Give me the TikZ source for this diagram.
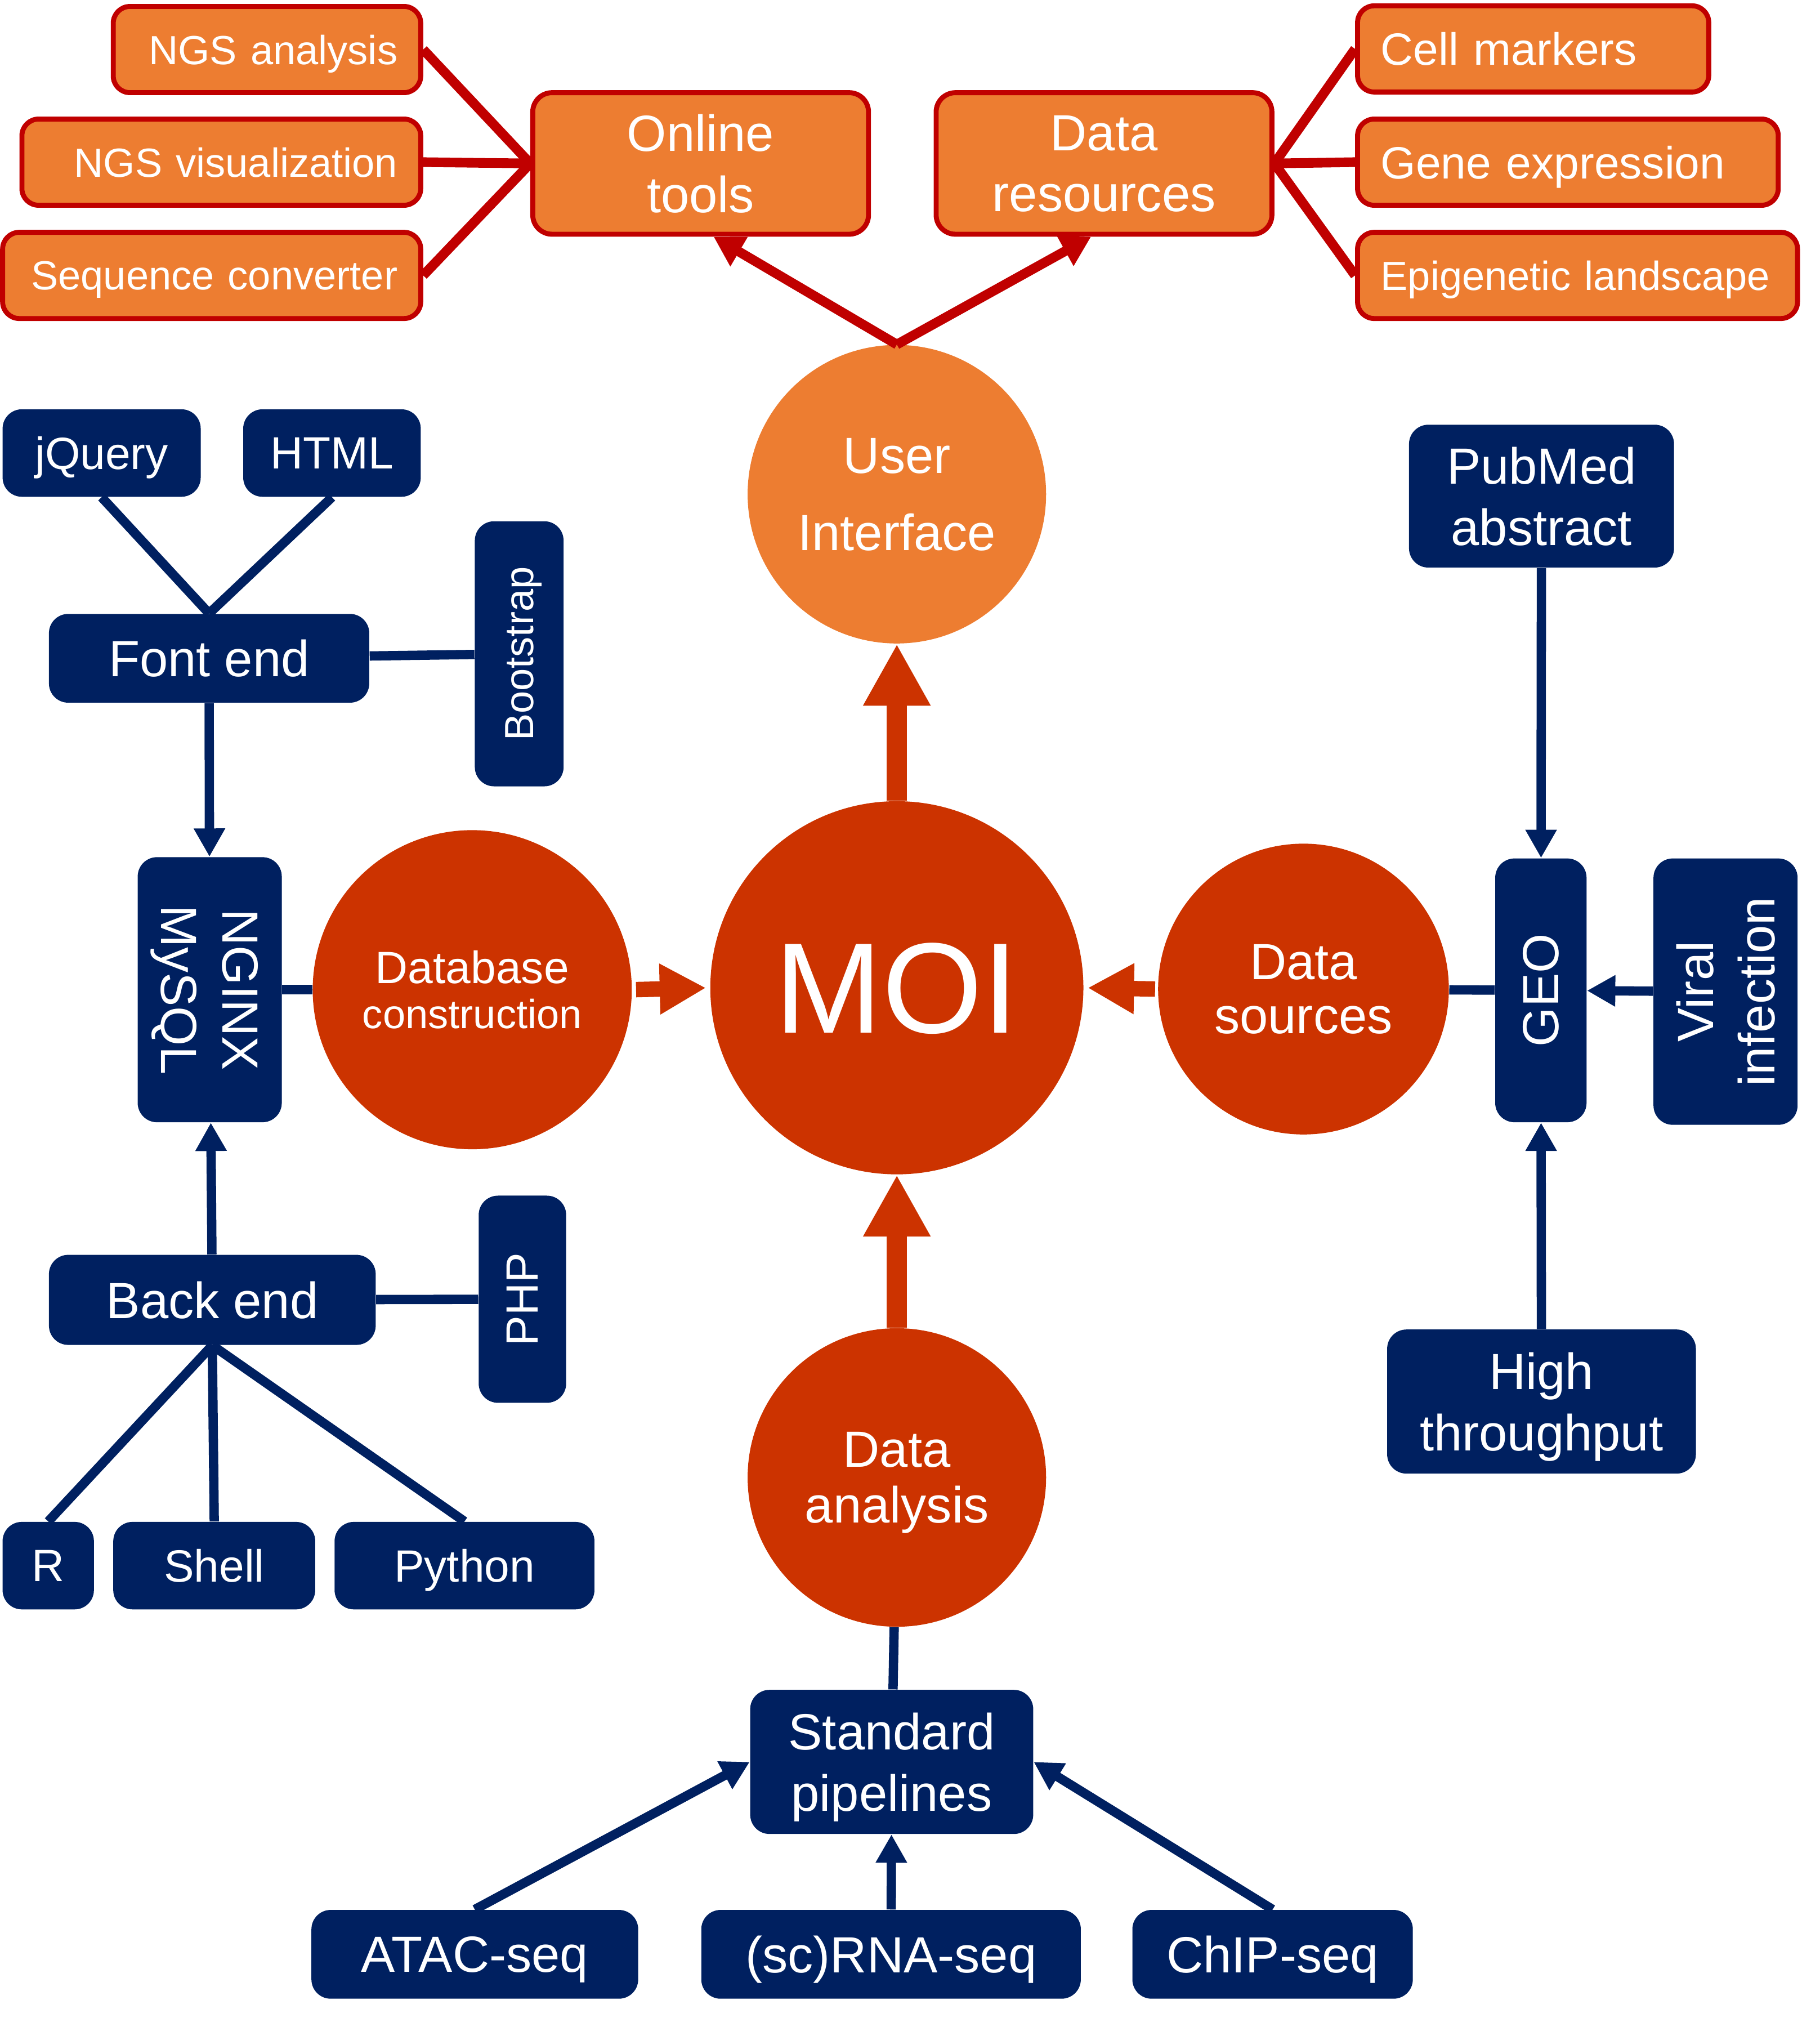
\documentclass[tikz,border=0pt]{standalone}
\usepackage{fontspec}
\setmainfont{Liberation Sans}
\usetikzlibrary{arrows.meta}
\definecolor{navy}{HTML}{002060}
\definecolor{orng}{HTML}{ED7D31}
\definecolor{dkred}{HTML}{C00000}
\definecolor{rust}{HTML}{CC3300}
\newcommand{\fbig}{\fontsize{22.5}{27}\selectfont}
\newcommand{\fmid}{\fontsize{20}{24}\selectfont}
\newcommand{\fsml}{\fontsize{18}{21}\selectfont}

\begin{document}
\begin{tikzpicture}[x=0.02cm, y=-0.02cm,
    lf/.style={draw=dkred, line width=2.2pt, fill=orng, text=white,
               rounded corners=0.26cm, minimum height=1.34cm,
               inner xsep=0.36cm, text depth=0pt, font=\fsml},
    lfl/.style={lf, align=right},
    lfr/.style={lf, align=left},
    hub/.style={draw=dkred, line width=2.2pt, fill=orng, text=white,
                rounded corners=0.3cm, minimum width=5.22cm,
                minimum height=2.2cm, align=center, text depth=0pt, font=\fbig},
    bx/.style={fill=navy, text=white, rounded corners=0.3cm,
               minimum height=1.36cm, align=center, text depth=0pt,
               font=\fbig, inner sep=2pt},
    circ/.style={circle, text=white, align=center, inner sep=0pt,
                 text depth=0pt, font=\fbig},
    ln/.style={navy, line width=0.145cm},
    arr/.style={ln, -{Triangle[length=0.44cm, width=0.46cm]}},
    rln/.style={dkred, line width=0.15cm},
    rarr/.style={rln, -{Triangle[length=0.46cm, width=0.5cm]}},
    big/.style={rust, line width=0.32cm, -{Triangle[length=0.96cm, width=0.98cm]}},
    mid/.style={rust, line width=0.24cm, -{Triangle[length=0.72cm, width=0.74cm]}}]
  \useasboundingbox (0,0) rectangle (1414,1568);

  % web part, top
  \node[lfl, text width=4.06cm] (ngsa) at (207.5,38.5) {NGS analysis};
  \node[lfl, text width=5.48cm] (ngsv) at (172,126) {NGS visualization};
  \node[lfl, text width=5.78cm] (seqc) at (164.5,214) {Sequence converter};
  \node[hub] (ot) at (544.5,127) {Online\\tools};
  \node[hub] (dr) at (858,127) {Data\\resources};
  \node[lfr, text width=4.74cm, font=\fmid] (cm) at (1191.5,38) {Cell markers};
  \node[lfr, text width=5.82cm, font=\fmid] (ge) at (1218.5,126) {Gene expression};
  \node[lfr, text width=6.12cm] (epi) at (1226,214) {Epigenetic landscape};

  % circles
  \node[circ, fill=orng, minimum size=4.64cm,
        font=\fontsize{22.5}{34}\selectfont] (ui) at (697,384) {User\\Interface};
  \node[circ, fill=rust, minimum size=5.8cm,
        font=\fontsize{57}{60}\selectfont] (moi) at (697,767.5) {MOI};
  \node[circ, fill=rust, minimum size=4.96cm,
        font=\fontsize{18}{20}\selectfont] (db) at (367,769) {{\fmid Database}\\construction};
  \node[circ, fill=rust, minimum size=4.52cm,
        font=\fontsize{22.5}{24}\selectfont] (ds) at (1013,768.5) {Data\\sources};
  \node[circ, fill=rust, minimum size=4.64cm,
        font=\fontsize{22.5}{24.5}\selectfont] (da) at (697,1148) {Data\\analysis};

  % database side
  \node[bx, minimum width=3.08cm, font=\fmid] (jq) at (79,352) {jQuery};
  \node[bx, minimum width=2.76cm, font=\fmid] (html) at (258,352) {HTML};
  \node[bx, minimum width=4.98cm, minimum height=1.38cm] (fe) at (162.5,511.5) {Font end};
  \node[bx, rotate=90, minimum width=4.12cm, minimum height=1.38cm,
        font=\fsml] (bs) at (403.5,508) {Bootstrap};
  \node[bx, rotate=-90, minimum width=4.12cm, minimum height=2.24cm] (ng) at (163,769) {NGINX\\MySQL};
  \node[bx, minimum width=5.08cm, minimum height=1.4cm] (be) at (165,1010) {Back end};
  \node[bx, rotate=90, minimum width=3.22cm, font=\fmid] (php) at (406,1009.5) {PHP};
  \node[bx, minimum width=1.42cm, font=\fmid] (r) at (37.5,1216.5) {R};
  \node[bx, minimum width=3.14cm, font=\fmid] (sh) at (166.5,1216.5) {Shell};
  \node[bx, minimum width=4.04cm, font=\fmid] (py) at (361,1216.5) {Python};

  % data sources side
  \node[bx, minimum width=4.12cm, minimum height=2.22cm] (pm) at (1198,385.5) {PubMed\\abstract};
  \node[bx, rotate=90, minimum width=4.1cm, minimum height=1.42cm] (geo) at (1197.5,769.5) {GEO};
  \node[bx, rotate=90, minimum width=4.14cm, minimum height=2.24cm] (vi) at (1341,770.5) {Viral\\infection};
  \node[bx, minimum width=4.8cm, minimum height=2.24cm] (ht) at (1198,1089) {High\\throughput};

  % analysis side
  \node[bx, minimum width=4.4cm, minimum height=2.24cm] (sp) at (693,1369) {Standard\\pipelines};
  \node[bx, minimum width=5.08cm, minimum height=1.38cm] (atac) at (369,1518.5) {ATAC-seq};
  \node[bx, minimum width=5.9cm, minimum height=1.38cm] (rna) at (692.5,1518.5) {(sc)RNA-seq};
  \node[bx, minimum width=4.36cm, minimum height=1.38cm] (chip) at (989,1518.5) {ChIP-seq};

  % connectors
  \draw[rln] (ot.west) -- (ngsa.east);
  \draw[rln] (ot.west) -- (ngsv.east);
  \draw[rln] (ot.west) -- (seqc.east);
  \draw[rln] (dr.east) -- (cm.west);
  \draw[rln] (dr.east) -- (ge.west);
  \draw[rln] (dr.east) -- (epi.west);
  \draw[rarr] (ui.north) -- (ot.-80);
  \draw[rarr] (ui.north) -- (dr.-100);

  \draw[big] (moi) -- (ui);
  \draw[big] (da) -- (moi);
  \draw[mid, shorten <=0.06cm, shorten >=0.06cm] (db.east) -- (moi.west);
  \draw[mid, shorten <=0.04cm, shorten >=0.06cm] (ds.west) -- (moi.east);

  \draw[ln] (jq.south) -- (fe.north);
  \draw[ln] (html.south) -- (fe.north);
  \draw[ln] (fe) -- (bs);
  \draw[arr] (fe) -- (ng);
  \draw[arr] (be) -- (ng);
  \draw[ln] (ng) -- (db);
  \draw[ln] (be) -- (php);
  \draw[ln] (be.south) -- (r.north);
  \draw[ln] (be.south) -- (sh.north);
  \draw[ln] (be.south) -- (py.north);

  \draw[arr] (pm) -- (geo);
  \draw[arr] (ht) -- (geo);
  \draw[arr] (vi) -- (geo);
  \draw[ln] (geo) -- (ds);

  \draw[ln] (da) -- (sp);
  \draw[arr] (atac.north) -- (sp.west);
  \draw[arr] (rna) -- (sp);
  \draw[arr] (chip.north) -- (sp.east);
\end{tikzpicture}
\end{document}
